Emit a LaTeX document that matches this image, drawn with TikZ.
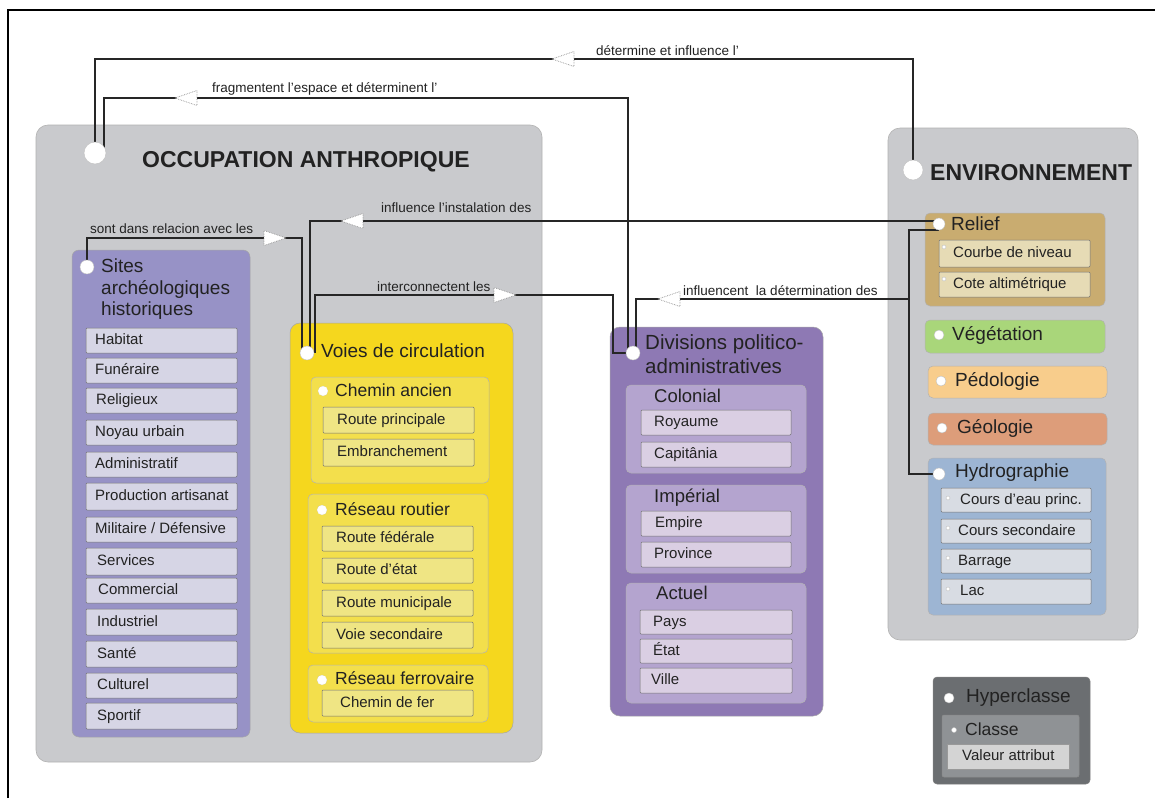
\documentclass[tikz,border=0pt]{standalone}
\usepackage{fontspec}
\setmainfont{Liberation Sans}
\usetikzlibrary{shapes.geometric}
\pgfdeclarelayer{lines}
\pgfdeclarelayer{top}
\pgfsetlayers{main,lines,top}
\definecolor{colPanel}{HTML}{C9CACD}
\definecolor{colSites}{HTML}{9792C6}
\definecolor{colSitesItem}{HTML}{D6D5E5}
\definecolor{colVoies}{HTML}{F5D71E}
\definecolor{colVoiesSub}{HTML}{F3DF4C}
\definecolor{colVoiesItem}{HTML}{EFE584}
\definecolor{colDiv}{HTML}{8E79B4}
\definecolor{colDivSub}{HTML}{B4A4CF}
\definecolor{colDivItem}{HTML}{DACFE3}
\definecolor{colRelief}{HTML}{C9AC70}
\definecolor{colReliefItem}{HTML}{E6DBB5}
\definecolor{colVeg}{HTML}{A9D67A}
\definecolor{colPed}{HTML}{F8CD8C}
\definecolor{colGeo}{HTML}{DD9D7A}
\definecolor{colHydro}{HTML}{9DB5D3}
\definecolor{colHydroItem}{HTML}{D8DCE3}
\definecolor{colHyper}{HTML}{6B6E71}
\definecolor{colClasse}{HTML}{8F9295}
\definecolor{colValeur}{HTML}{D4D4D4}
\definecolor{colText}{HTML}{222222}
\newcommand\mybox[6]{\node[#6, anchor=north west, minimum width={(#4-#2)*1pt}, minimum height={(#5-#3)*1pt}, inner sep=0pt, outer sep=0pt] (#1) at (#2,#3) {};}
\newcommand\myitem[8]{\mybox{#1}{#2}{#3}{#4}{#5}{#6}\node[itxt] (#1t) at (#8,{(#3+#5)/2}) {#7};}
\tikzset{
  panel/.style={fill=colPanel, draw=black!30, line width=.6pt, rounded corners=12pt},
  cls/.style={draw=black!35, line width=.5pt, rounded corners=7pt},
  sub/.style={draw=black!30, line width=.5pt, rounded corners=5pt},
  itembox/.style={draw=black!55, line width=.5pt, rounded corners=1pt},
  conn/.style={draw=black!85, line width=1.6pt},
  arrowtri/.style={isosceles triangle, isosceles triangle stretches, minimum height=22pt, minimum width=15pt, inner sep=0pt, fill=white, draw=black!45, densely dotted, line width=.7pt, anchor=apex},
  dot/.style={circle, fill=white, draw=black!25, line width=.4pt, inner sep=0pt, minimum size=#1},
  ttl/.style={font=\fontsize{23}{27}\selectfont\bfseries, anchor=mid west, inner sep=0pt, text=colText, yshift=-3pt},
  hd/.style={font=\fontsize{19}{22}\selectfont, anchor=mid west, inner sep=0pt, text=colText, yshift=-2pt},
  hds/.style={font=\fontsize{17.5}{20}\selectfont, anchor=mid west, inner sep=0pt, text=colText, yshift=-2pt},
  itxt/.style={font=\fontsize{15}{18}\selectfont, anchor=mid west, inner sep=0pt, text=colText, yshift=-1.5pt},
  lab/.style={font=\fontsize{13.5}{16}\selectfont, anchor=mid west, inner sep=0pt, text=colText, yshift=-1.5pt},
}
\begin{document}
\begin{tikzpicture}[x=1pt,y=-1pt]
\useasboundingbox (0,0) rectangle (1155,798);
\fill[white] (0,0) rectangle (1155,798);
\draw[line width=2pt] (8,798) -- (8,10) -- (1155,10);

% ---------- panels
\mybox{occ}{36}{125}{542}{762}{panel}
\mybox{env}{888}{128}{1138}{640}{panel}
\node[ttl] (occtitle) at (142,162) {OCCUPATION ANTHROPIQUE};
\node[ttl] (envtitle) at (930,175) {ENVIRONNEMENT};

% ---------- Sites
\mybox{sites}{72}{250}{250}{737}{cls, fill=colSites}
\node[hd] (sites1) at (101,268) {Sites};
\node[hd] (sites2) at (101,290) {archéologiques};
\node[hd] (sites3) at (101,311) {historiques};
\myitem{s1}{86}{328}{237}{353}{itembox, fill=colSitesItem}{Habitat}{95}
\myitem{s2}{86}{358}{237}{383}{itembox, fill=colSitesItem}{Funéraire}{95}
\myitem{s3}{86}{388}{237}{413}{itembox, fill=colSitesItem}{Religieux}{96}
\myitem{s4}{86}{420}{237}{445}{itembox, fill=colSitesItem}{Noyau urbain}{95}
\myitem{s5}{86}{452}{237}{477}{itembox, fill=colSitesItem}{Administratif}{95}
\myitem{s6}{86}{483}{237}{510}{itembox, fill=colSitesItem}{Production artisanat}{95}
\myitem{s7}{86}{517}{237}{542}{itembox, fill=colSitesItem}{Militaire / Défensive}{95}
\myitem{s8}{86}{548}{237}{575}{itembox, fill=colSitesItem}{Services}{97}
\myitem{s9}{86}{578}{237}{603}{itembox, fill=colSitesItem}{Commercial}{98}
\myitem{s10}{86}{609}{237}{635}{itembox, fill=colSitesItem}{Industriel}{97}
\myitem{s11}{86}{641}{237}{667}{itembox, fill=colSitesItem}{Santé}{97}
\myitem{s12}{86}{673}{237}{698}{itembox, fill=colSitesItem}{Culturel}{97}
\myitem{s13}{86}{703}{237}{729}{itembox, fill=colSitesItem}{Sportif}{97}

% ---------- Voies
\mybox{voies}{290}{323}{513}{733}{cls, fill=colVoies, rounded corners=10pt}
\node[hd] (voiestitle) at (321,353) {Voies de circulation};
\mybox{chemin}{311}{377}{489}{483}{sub, fill=colVoiesSub}
\node[hds] (chemint) at (335,392) {Chemin ancien};
\myitem{v1}{323}{407}{474}{433}{itembox, fill=colVoiesItem}{Route principale}{337}
\myitem{v2}{323}{439}{474}{466}{itembox, fill=colVoiesItem}{Embranchement}{337}
\mybox{routier}{308}{494}{488}{653}{sub, fill=colVoiesSub}
\node[hds] (routiert) at (335,511) {Réseau routier};
\myitem{v3}{322}{526}{473}{551}{itembox, fill=colVoiesItem}{Route fédérale}{336}
\myitem{v4}{322}{558}{473}{583}{itembox, fill=colVoiesItem}{Route d'état}{336}
\myitem{v5}{322}{590}{473}{616}{itembox, fill=colVoiesItem}{Route municipale}{336}
\myitem{v6}{322}{622}{473}{648}{itembox, fill=colVoiesItem}{Voie secondaire}{336}
\mybox{ferro}{308}{665}{488}{722}{sub, fill=colVoiesSub}
\node[hds] (ferrot) at (335,680) {Réseau ferrovaire};
\myitem{v7}{322}{690}{473}{716}{itembox, fill=colVoiesItem}{Chemin de fer}{340}

% ---------- Divisions
\mybox{div}{610}{327}{823}{716}{cls, fill=colDiv, rounded corners=10pt}
\node[hd, font=\fontsize{20.5}{24}\selectfont] (div1) at (645,345) {Divisions politico-};
\node[hd, font=\fontsize{20.5}{24}\selectfont] (div2) at (645,369) {administratives};
\mybox{colonial}{626}{385}{806}{473}{sub, fill=colDivSub}
\node[hds, font=\fontsize{18.5}{22}\selectfont] (colonialt) at (654,398) {Colonial};
\myitem{d1}{641}{410}{791}{435}{itembox, fill=colDivItem}{Royaume}{654}
\myitem{d2}{641}{442}{791}{467}{itembox, fill=colDivItem}{Capitânia}{654}
\mybox{imperial}{626}{485}{806}{573}{sub, fill=colDivSub}
\node[hds, font=\fontsize{18.5}{22}\selectfont] (imperialt) at (654,498) {Impérial};
\myitem{d3}{641}{511}{791}{536}{itembox, fill=colDivItem}{Empire}{655}
\myitem{d4}{641}{542}{791}{567}{itembox, fill=colDivItem}{Province}{654}
\mybox{actuel}{626}{583}{806}{703}{sub, fill=colDivSub}
\node[hds, font=\fontsize{18.5}{22}\selectfont] (actuelt) at (656,595) {Actuel};
\myitem{d5}{640}{610}{792}{634}{itembox, fill=colDivItem}{Pays}{653}
\myitem{d6}{640}{639}{792}{663}{itembox, fill=colDivItem}{État}{653}
\myitem{d7}{640}{668}{792}{693}{itembox, fill=colDivItem}{Ville}{651}

% ---------- Environnement contents
\mybox{relief}{925}{213}{1105}{306}{sub, fill=colRelief}
\node[hd] (relieft) at (951,226) {Relief};
\myitem{r1}{939}{240}{1090}{267}{itembox, fill=colReliefItem}{Courbe de niveau}{953}
\myitem{r2}{939}{272}{1090}{297}{itembox, fill=colReliefItem}{Cote altimétrique}{953}
\mybox{veg}{925}{320}{1105}{353}{sub, fill=colVeg}
\node[hd] (vegt) at (952,336) {Végétation};
\mybox{ped}{928}{366}{1107}{398}{sub, fill=colPed}
\node[hd] (pedt) at (955,382) {Pédologie};
\mybox{geo}{928}{413}{1107}{445}{sub, fill=colGeo}
\node[hd] (geot) at (957,429) {Géologie};
\mybox{hydro}{928}{458}{1106}{615}{sub, fill=colHydro}
\node[hd] (hydrot) at (955,473) {Hydrographie};
\myitem{h1}{941}{488}{1091}{512}{itembox, fill=colHydroItem}{Cours d'eau princ.}{960}
\myitem{h2}{941}{519}{1091}{543}{itembox, fill=colHydroItem}{Cours secondaire}{958}
\myitem{h3}{941}{549}{1091}{573}{itembox, fill=colHydroItem}{Barrage}{958}
\myitem{h4}{941}{579}{1091}{604}{itembox, fill=colHydroItem}{Lac}{960}

% ---------- legend
\mybox{hyper}{933}{677}{1090}{784}{fill=colHyper, draw=black!50, line width=.5pt, rounded corners=4pt}
\node[hd] (hypert) at (966,698) {Hyperclasse};
\mybox{classe}{942}{715}{1079}{777}{fill=colClasse, draw=black!45, line width=.5pt, rounded corners=2pt}
\node[hds] (classet) at (965,731) {Classe};
\myitem{valeur}{947}{744}{1069}{769}{fill=colValeur, draw=black!40, line width=.4pt}{Valeur attribut}{962}

% ---------- connector labels
\node[lab] (l1) at (596,51) {détermine et influence l'};
\node[lab] (l2) at (212,88) {fragmentent l'espace et déterminent l'};
\node[lab] (l3) at (90,229) {sont dans relacion avec les};
\node[lab] (l4) at (381,208) {influence l'instalation des};
\node[lab] (l5) at (377,287) {interconnectent les};
\node[lab] (l6) at (683,291) {influencent~ la détermination des};

% ---------- circles (top)
\begin{pgfonlayer}{top}
\node[dot=22pt] (occc) at (95,153) {};
\node[dot=20pt] (envc) at (913,170) {};
\node[dot=14pt] (sitesc) at (87,267) {};
\node[dot=14pt] (voiesc) at (307,353) {};
\node[dot=14pt] (divc) at (633,353) {};
\node[dot=12pt] (reliefc) at (939,224) {};
\node[dot=12pt] (hydroc) at (939,474) {};
\node[dot=10pt] (vegc) at (939,335) {};
\node[dot=10pt] (pedc) at (941,381) {};
\node[dot=10pt] (geoc) at (942,428) {};
\node[dot=10pt, densely dotted] (chc) at (323,391) {};
\node[dot=10pt, densely dotted] (rrc) at (322,510) {};
\node[dot=10pt, densely dotted] (rfc) at (322,680) {};
\node[dot=10pt] (hypc) at (949,698) {};
\node[dot=5pt] (clc) at (954,730) {};
\node[dot=4pt] (r1c) at (944,247) {};
\node[dot=4pt] (r2c) at (944,279) {};
\node[dot=4pt] (h1c) at (948,498) {};
\node[dot=4pt] (h2c) at (948,528) {};
\node[dot=4pt] (h3c) at (948,558) {};
\node[dot=4pt] (h4c) at (948,589) {};
% arrowheads
\node[arrowtri, shape border rotate=180] (a1) at (551,59) {};
\node[arrowtri, shape border rotate=180] (a2) at (174,98) {};
\node[arrowtri] (a3) at (287,238) {};
\node[arrowtri, shape border rotate=180] (a4) at (340,221) {};
\node[arrowtri] (a5) at (517,295) {};
\node[arrowtri, shape border rotate=180] (a6) at (657,299) {};
\end{pgfonlayer}

% ---------- connectors
\begin{pgfonlayer}{lines}
\draw[conn] (envc.center) |- (occc.center |- 0,59) -- (occc.center);
\draw[conn] ([xshift=-5pt]divc.center) |- (104,98) |- (occc.center);
\draw[conn] (sitesc.center) |- (302,238) |- (voiesc.center);
\draw[conn] (reliefc.center |- 0,221) -| ([xshift=3pt]voiesc.center);
\draw[conn] ([xshift=8pt]voiesc.center) |- (613,295) |- (divc.center);
\coordinate (brk) at (909,299);
\draw[conn] (brk) -| ([xshift=3pt]divc.center);
\draw[conn] ([yshift=-6pt]reliefc.center) -| (909,474) -- (hydroc.center);
\end{pgfonlayer}
\end{tikzpicture}
\end{document}
